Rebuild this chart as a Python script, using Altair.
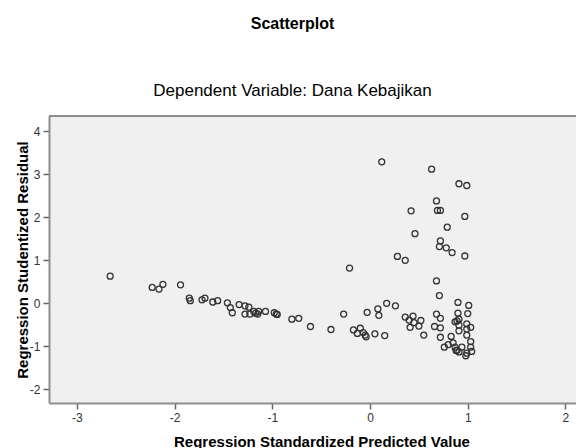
import altair as alt
import pandas as pd

# Regression Standardized Predicted Value
pred = [
    -2.66, -2.23, -2.16, -2.12, -1.94, -1.85, -1.84, -1.72, -1.69, -1.61,
    -1.56, -1.46, -1.43, -1.41, -1.34, -1.28, -1.24, -1.28, -1.23, -1.19,
    -1.17, -1.14, -1.15, -1.07, -0.98, -0.96, -0.95, -0.80, -0.73, -0.61,
    -0.40, -0.27, -0.21, -0.17, -0.13, -0.10, -0.07, -0.05, -0.04, -0.03,
    0.05, 0.08, 0.09, 0.15, 0.17, 0.26, 0.12, 0.28, 0.36, 0.42,
    0.46, 0.63, 0.91, 0.99, 0.68, 0.69, 0.72, 0.97, 0.79, 0.72,
    0.71, 0.78, 0.84, 0.97, 0.68, 0.71, 0.90, 1.01, 1.00, 0.90,
    0.89, 0.91, 0.68, 0.72, 0.66, 0.72, 0.72, 0.83, 0.76, 0.80,
    0.85, 0.87, 0.89, 0.91, 0.88, 0.94, 0.98, 0.99, 1.04, 1.03,
    1.03, 0.99, 0.99, 1.03, 0.99, 0.91, 0.91, 0.87, 0.36, 0.40,
    0.44, 0.45, 0.52, 0.41, 0.50, 0.55,
]

# Regression Studentized Residual
resid = [
    0.63, 0.37, 0.33, 0.44, 0.43, 0.12, 0.06, 0.08, 0.12, 0.03,
    0.06, 0.01, -0.10, -0.22, -0.03, -0.06, -0.09, -0.25, -0.25, -0.19,
    -0.23, -0.19, -0.25, -0.19, -0.22, -0.25, -0.26, -0.37, -0.35, -0.54,
    -0.61, -0.25, 0.82, -0.62, -0.70, -0.58, -0.68, -0.74, -0.78, -0.21,
    -0.71, -0.13, -0.28, -0.75, 0.00, -0.06, 3.29, 1.09, 1.00, 2.15,
    1.62, 3.12, 2.78, 2.74, 2.38, 2.16, 2.16, 2.02, 1.77, 1.45,
    1.32, 1.29, 1.18, 1.10, 0.52, 0.18, 0.02, -0.05, -0.24, -0.23,
    -0.41, -0.37, -0.25, -0.35, -0.54, -0.57, -0.79, -0.77, -1.02, -0.96,
    -0.92, -1.02, -1.09, -1.13, -1.10, -1.02, -1.22, -1.16, -1.12, -1.02,
    -0.89, -0.74, -0.60, -0.56, -0.48, -0.51, -0.64, -0.43, -0.32, -0.39,
    -0.30, -0.45, -0.40, -0.56, -0.53, -0.74,
]

x_ticks = [-3, -2, -1, 0, 1, 2]
y_ticks = [-2, -1, 0, 1, 2, 3, 4]

df = pd.DataFrame({"pred": pred, "resid": resid})

W, H = 527, 287
X_DOMAIN = [-3.286, 2.108]
Y_DOMAIN = [-2.319, 4.356]
FONT = "Liberation Sans"

points = alt.Chart(df).mark_point(
    shape="circle", filled=False, size=36, strokeWidth=1.3,
    color="#333333", opacity=1,
).encode(
    x=alt.X(
        "pred:Q",
        scale=alt.Scale(domain=X_DOMAIN, nice=False, zero=False),
        axis=alt.Axis(
            values=x_ticks,
            labelExpr="'' + datum.value",
            title="Regression Standardized Predicted Value",
            titleX=272.5,
            titleY=43,
            titleBaseline="alphabetic",
        ),
    ),
    y=alt.Y(
        "resid:Q",
        scale=alt.Scale(domain=Y_DOMAIN, nice=False, zero=False),
        axis=alt.Axis(
            values=y_ticks,
            labelExpr="'' + datum.value",
            title="Regression Studentized Residual",
            titleX=-27,
            titleBaseline="middle",
        ),
    ),
)

top_rule = alt.Chart(pd.DataFrame({"k": [0]})).mark_rule(
    color="#8c8c8c", strokeWidth=2
).encode(x=alt.value(0), x2=alt.value(W), y=alt.value(0))

chart = alt.layer(points, top_rule).properties(
    width=W,
    height=H,
    autosize=alt.AutoSizeParams(type="none"),
    padding={"left": 41, "top": 108, "right": 0, "bottom": 45},
    title=alt.TitleParams(
        text="Scatterplot",
        subtitle="Dependent Variable: Dana Kebajikan",
        anchor="middle",
        dx=-20,
        font=FONT,
        fontSize=16,
        fontWeight="bold",
        color="#000000",
        subtitleFont=FONT,
        subtitleFontSize=17,
        subtitleColor="#000000",
        subtitlePadding=51,
        offset=16,
    ),
).configure_view(
    fill="#f0f0f0", stroke=None
).configure_axis(
    grid=False,
    domainColor="#8c8c8c",
    domainWidth=2,
    tickColor="#666666",
    tickWidth=1.5,
    tickSize=6,
    labelColor="#333333",
    labelFont=FONT,
    labelFontSize=12,
    labelPadding=3,
    titleFont=FONT,
    titleFontSize=15,
    titleFontWeight="bold",
    titleColor="#000000",
)

chart.save("out.html", embed_options={"renderer": "svg", "actions": False})
